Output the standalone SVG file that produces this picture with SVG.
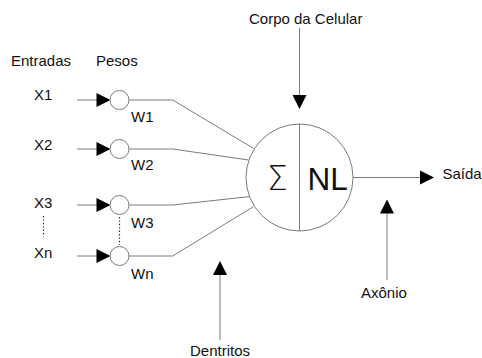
<svg xmlns="http://www.w3.org/2000/svg" width="482" height="358" viewBox="0 0 482 358">
  <style>
    text { font-family: "Liberation Sans", Arial, sans-serif; font-size: 15px; fill: #111; }
    .ln { stroke: #7a7a7a; stroke-width: 1; fill: none; }
    .node { stroke: #7a7a7a; stroke-width: 1; fill: #fff; }
    .head { fill: #000; stroke: none; }
    .dots { stroke: #333; stroke-width: 1.2; stroke-dasharray: 1.4 2; fill: none; }
    .big { font-size: 31.5px; }
    .sigma { font-family: "DejaVu Sans", sans-serif; font-size: 33px; font-weight: 200; }
  </style>
  <rect width="482" height="358" fill="#fff"/>

  <!-- column headings -->
  <text x="11" y="66">Entradas</text>
  <text x="96" y="66">Pesos</text>

  <!-- connectors -->
  <g id="connectors">
    <!-- inputs into weights -->
    <path class="ln" d="M77 100 H97 M77 149 H97 M77 205 H97 M77 256 H97"/>
    <polygon class="head" points="96.5,93 110.5,100 96.5,107"/>
    <polygon class="head" points="96.5,142 110.5,149 96.5,156"/>
    <polygon class="head" points="96.5,198 110.5,205 96.5,212"/>
    <polygon class="head" points="96.5,249 110.5,256 96.5,263"/>
    <!-- dendrites: weights into the cell body -->
    <path class="ln" d="M129 100 H172.7 L253.3 148.3"/>
    <path class="ln" d="M129 149 H172.7 L248.6 160"/>
    <path class="ln" d="M129 205 H172.7 L249.5 196.6"/>
    <path class="ln" d="M129 256 H172.7 L253.3 206.7"/>
    <!-- ellipsis dots -->
    <path class="dots" d="M43.5 216 V237"/>
    <path class="dots" d="M119.5 217 V245"/>
    <!-- output -->
    <path class="ln" d="M353 177.5 H420"/>
    <polygon class="head" points="420,170.5 434,177.5 420,184.5"/>
    <!-- label pointers -->
    <path class="ln" d="M299.5 28 V96"/>
    <polygon class="head" points="292.5,95 306.5,95 299.5,109"/>
    <path class="ln" d="M387 213 V280"/>
    <polygon class="head" points="387,199.5 394,213.5 380,213.5"/>
    <path class="ln" d="M220 274 V340"/>
    <polygon class="head" points="220,261 227,275 213,275"/>
  </g>

  <!-- inputs -->
  <g id="x1"><text x="34" y="99.5">X1</text></g>
  <g id="x2"><text x="34" y="150">X2</text></g>
  <g id="x3"><text x="34" y="208">X3</text></g>
  <g id="xn"><text x="34" y="258">Xn</text></g>

  <!-- weights -->
  <g id="w1"><circle class="node" cx="119.5" cy="100" r="9.5"/><text x="131" y="122">W1</text></g>
  <g id="w2"><circle class="node" cx="119.5" cy="149" r="9.5"/><text x="131" y="170">W2</text></g>
  <g id="w3"><circle class="node" cx="119.5" cy="205" r="9.5"/><text x="131" y="228">W3</text></g>
  <g id="wn"><circle class="node" cx="119.5" cy="256" r="9.5"/><text x="131" y="279">Wn</text></g>

  <!-- cell body: summation and non-linearity -->
  <g id="neuron">
    <circle class="node" cx="299.5" cy="177.5" r="53.5"/>
    <line class="ln" x1="299.5" y1="124" x2="299.5" y2="231"/>
    <text class="sigma" x="277.5" y="190" text-anchor="middle">Σ</text>
    <text class="big" x="307.5" y="189.5">NL</text>
  </g>

  <!-- annotations -->
  <g id="corpo"><text x="249" y="24">Corpo da Celular</text></g>
  <g id="saida"><text x="442.5" y="178.5">Saída</text></g>
  <g id="axonio"><text x="361" y="298">Axônio</text></g>
  <g id="dentritos"><text x="190" y="356">Dentritos</text></g>
</svg>
